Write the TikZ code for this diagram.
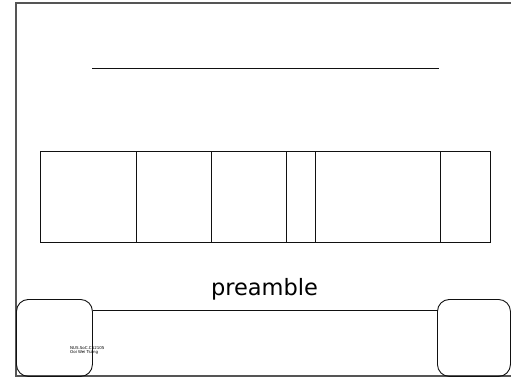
\documentclass[tikz,border=0pt]{standalone}
\usepackage{fontspec}
\setmainfont{DejaVu Sans}
\usepackage{tikz}
\usetikzlibrary{positioning}
\definecolor{ink}{HTML}{111111}
\definecolor{edge}{HTML}{555555}

\begin{document}
\begin{tikzpicture}[x=1pt, y=-1pt,
  field/.style={draw=ink, line width=0.9pt, inner sep=0pt, minimum height=91pt, anchor=north west},
  corner/.style={draw=ink, line width=0.9pt, rounded corners=12pt, inner sep=0pt, anchor=north west}]
\useasboundingbox (0,0) rectangle (511,377);
% slide frame
\draw[edge, line width=1.6pt] (512,3) -- (16,3) -- (16,376) -- (512,376);
% title rule
\coordinate (tl) at (92,68);
\coordinate (tr) at (439,68);
\draw[ink, line width=0.9pt] (tl) -- (tr);
% the header fields
\foreach \a/\b [count=\i] in {40/136, 136/211, 211/286, 286/315, 315/440, 440/490}{
  \pgfmathsetmacro\w{\b-\a}
  \node[field, minimum width=\w pt] (f\i) at (\a,151) {};
}
\node[anchor=base, font=\fontsize{22.5}{27}\selectfont] (name) at (264.5,295) {preamble};
% footer
\node[corner, minimum width=76pt, minimum height=77pt] (lbox) at (16,299) {};
\node[corner, minimum width=73pt, minimum height=77pt] (rbox) at (437,299) {};
\coordinate (foot) at (0,310);
\draw[ink, line width=0.9pt] (lbox.east |- foot) -- (rbox.west |- foot);
\node[anchor=north west, align=left, inner sep=0pt, font=\fontsize{4}{4.6}\selectfont] (credit) at (70,346) {NUS.SoC.CS2105\\Ooi Wei Tsang};
\end{tikzpicture}
\end{document}
